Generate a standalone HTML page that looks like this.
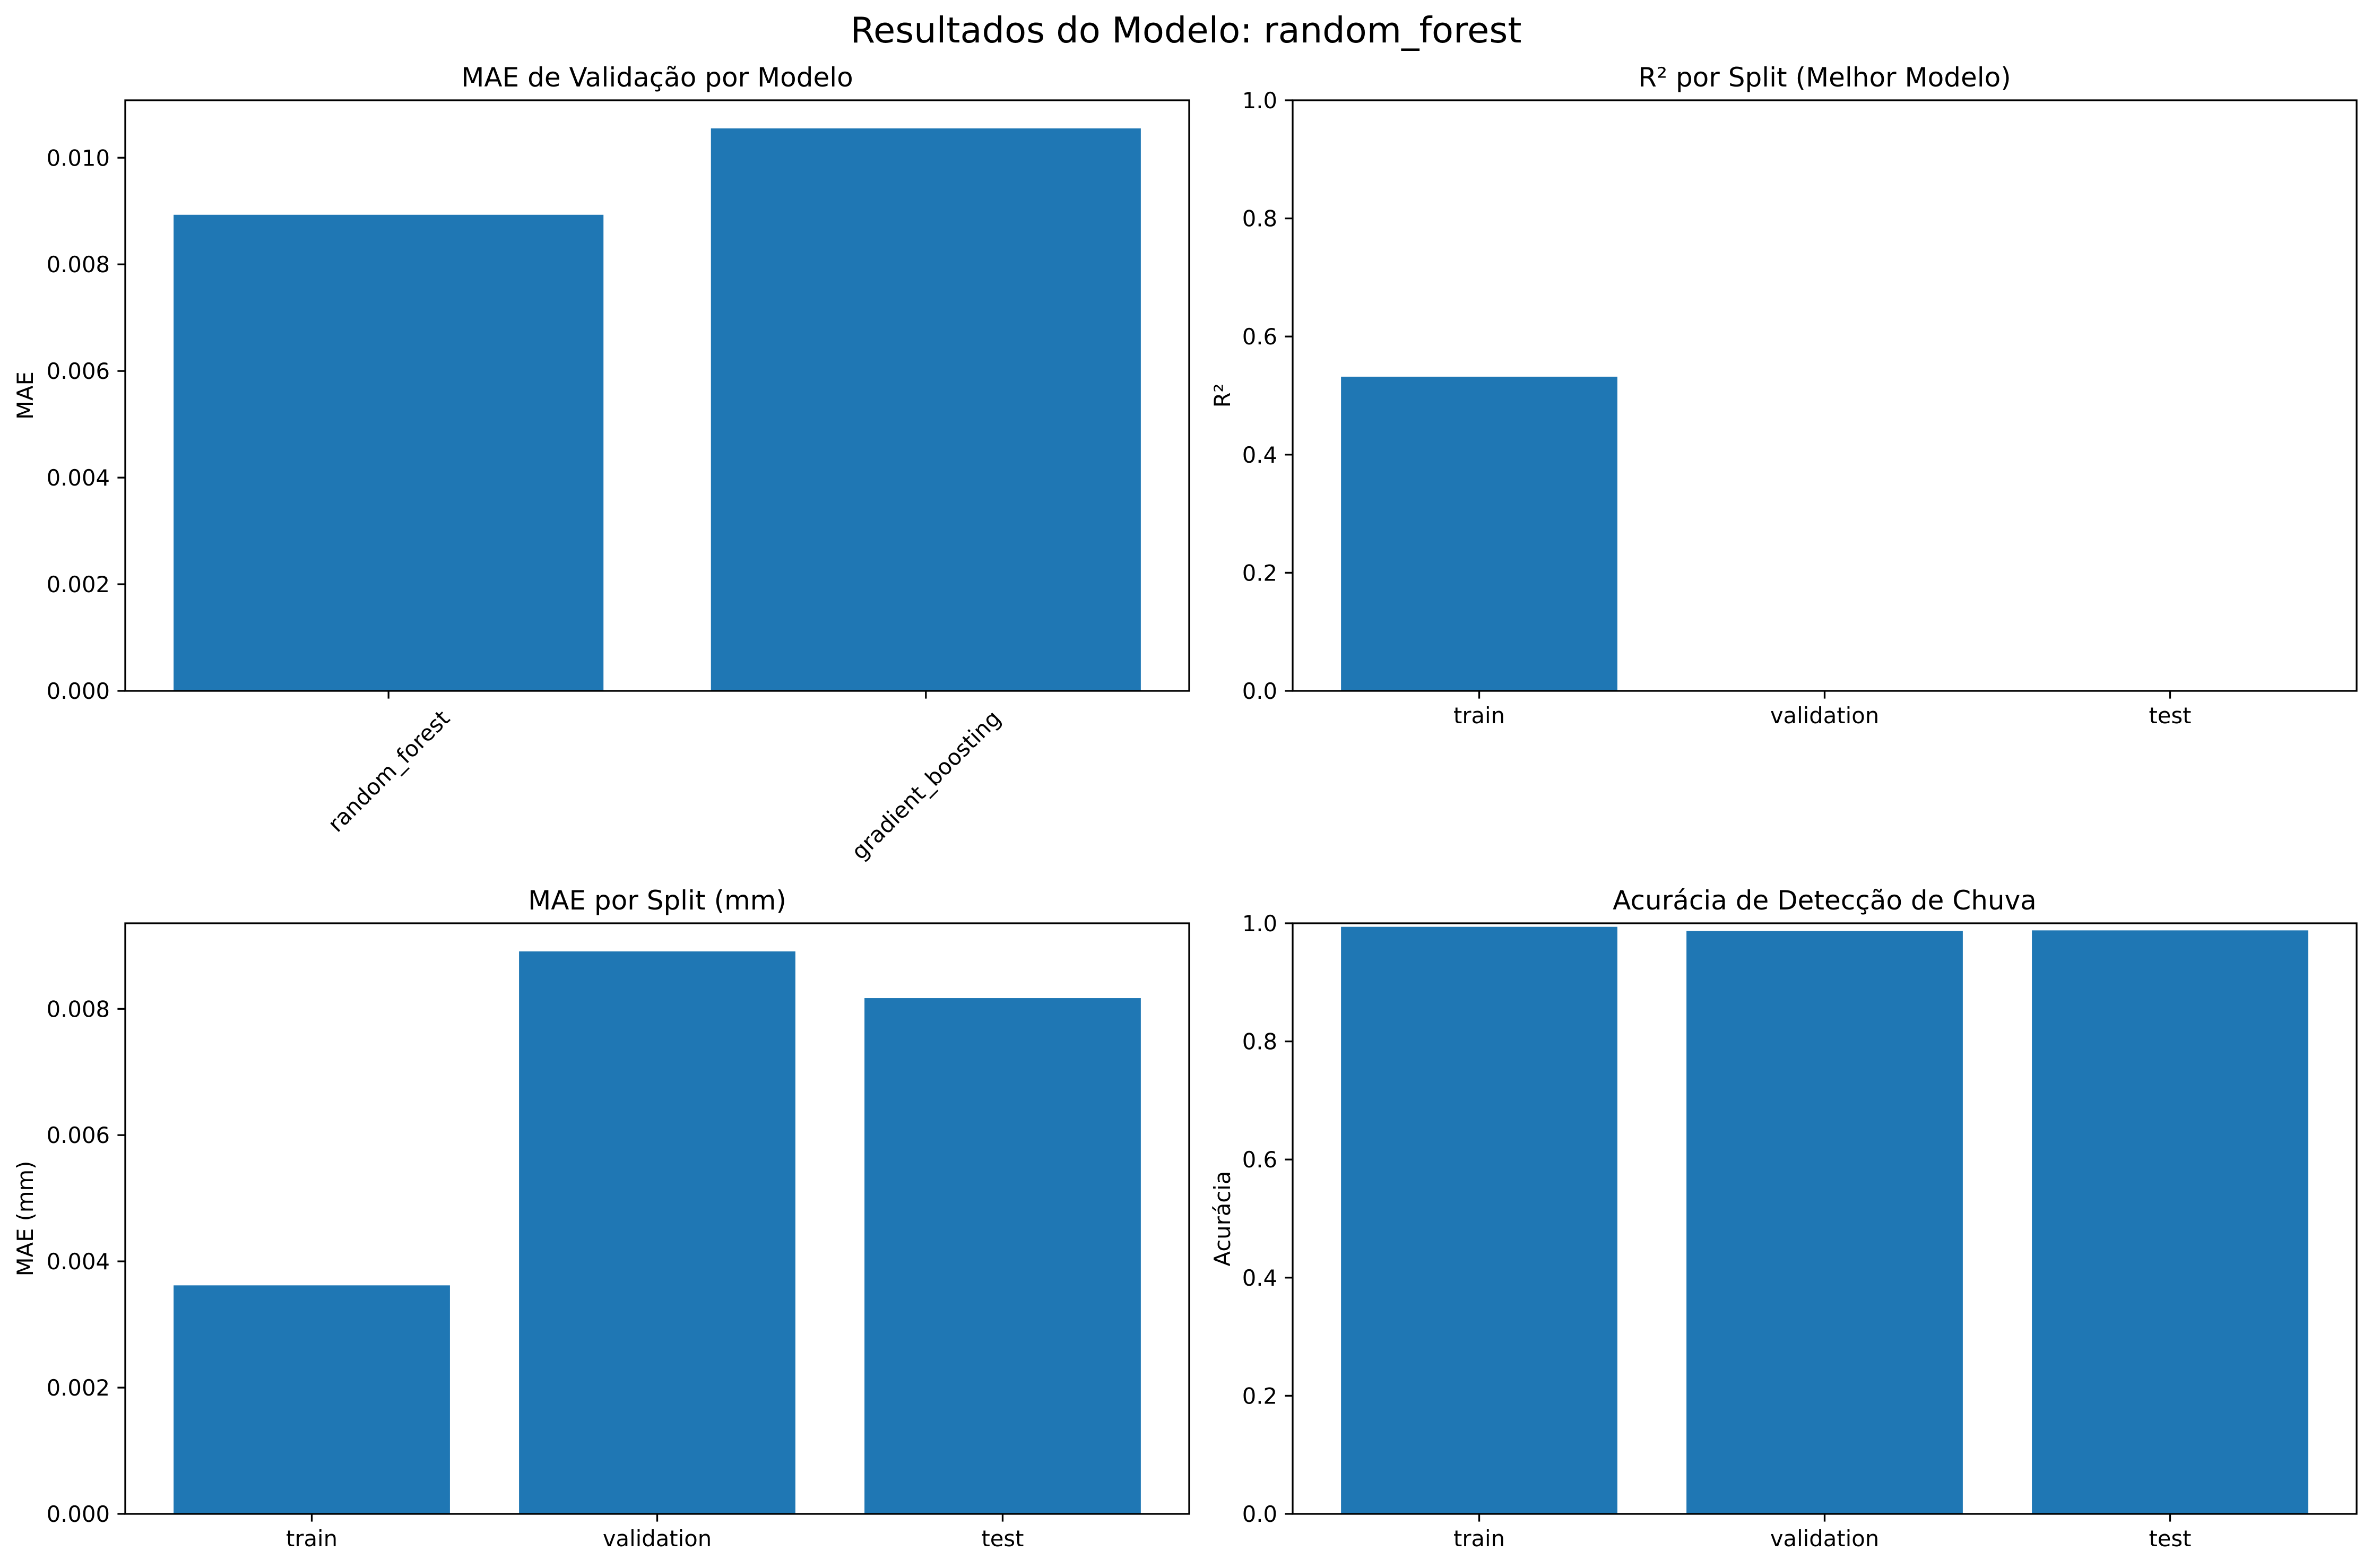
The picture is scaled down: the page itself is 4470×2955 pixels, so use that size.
<!DOCTYPE html>
<html><head><meta charset="utf-8"><style>
html,body{margin:0;padding:0;background:#fff}
svg{display:block}
text{font-family:"DejaVu Sans","Liberation Sans",sans-serif;fill:#000}
</style></head><body>
<svg id="fig" width="4470" height="2955" viewBox="0 0 4470 2955" xmlns="http://www.w3.org/2000/svg">
<rect width="4470" height="2955" fill="#fff"/>
<text x="2235" y="80" font-size="67" text-anchor="middle">Resultados do Modelo: random_forest</text>
</svg>
<script>
const modelCats = ["random_forest", "gradient_boosting"];
const modelMae = [0.00893, 0.01055];
const splitCats = ["train", "validation", "test"];
const r2Values = [0.532, 0, 0];
const maeSplitValues = [0.00362, 0.00891, 0.00817];
const accValues = [0.994, 0.987, 0.988];
const maeTicks = ["0.000","0.002","0.004","0.006","0.008","0.010"];
const unitTicks = ["0.0","0.2","0.4","0.6","0.8","1.0"];
const maeSplitTicks = ["0.000","0.002","0.004","0.006","0.008"];

const NS = "http://www.w3.org/2000/svg";
const svg = document.getElementById("fig");
function mk(tag, attrs, parent) {
  const e = document.createElementNS(NS, tag);
  for (const k in attrs) e.setAttribute(k, attrs[k]);
  (parent || svg).appendChild(e);
  return e;
}

function drawPanel(cfg) {
  const g = mk("g", {});
  
  
  const L = cfg.x0, R = cfg.x1, T = cfg.y0, B = cfg.y1;
  const n = cfg.cats.length;
  const xmin = -0.4 - 0.05 * (n - 1 + 0.8), xmax = n - 1 + 0.4 + 0.05 * (n - 1 + 0.8);
  const xs = v => L + (v - xmin) / (xmax - xmin) * (R - L);
  const ymax = cfg.ymax != null ? cfg.ymax : Math.max(...cfg.vals) * 1.05;
  const ys = v => B - v / ymax * (B - T);
  cfg.vals.forEach((v, i) => {
    const r = mk("rect", {x: xs(i - 0.4), y: ys(Math.max(v, 0)), width: xs(i + 0.4) - xs(i - 0.4), height: Math.max(0, B - ys(Math.max(v, 0))), fill: "#1f77b4"}, g);
    
    
  });
  const f = mk("rect", {x: L, y: T, width: R - L, height: B - T, fill: "none", stroke: "#000", "stroke-width": 3.3}, g);
  
  
  cfg.yticks.forEach(t => {
    const v = parseFloat(t);
    const y = ys(v);
    mk("line", {x1: L - 14.6, x2: L, y1: y, y2: y, stroke: "#000", "stroke-width": 3.3}, g);
    const tx = mk("text", {x: L - 29, y: y + 15, "font-size": 41.7, "text-anchor": "end"}, g);
    tx.textContent = t;
    
    
  });
  cfg.cats.forEach((c, i) => {
    const x = xs(i);
    mk("line", {x1: x, x2: x, y1: B, y2: B + 14.6, stroke: "#000", "stroke-width": 3.3}, g);
    const tx = mk("text", {"font-size": 41.7, "text-anchor": "middle"}, g);
    tx.textContent = c;
    
    
    if (cfg.rotate) {
      const len = tx.getComputedTextLength ? tx.getComputedTextLength() : c.length * 23;
      const h = (len + 42) * 0.7071;
      const cy = B + 29 + h / 2;
      tx.setAttribute("x", x); tx.setAttribute("y", cy + 15);
      tx.setAttribute("transform", `rotate(-45 ${x} ${cy})`);
    } else {
      tx.setAttribute("x", x); tx.setAttribute("y", B + 61);
    }
  });
  const ti = mk("text", {x: (L + R) / 2, y: T - 26, "font-size": 50, "text-anchor": "middle"}, g);
  ti.textContent = cfg.title;
  
  
  const yl = mk("text", {x: cfg.ylx, y: (T + B) / 2, "font-size": 41.7, "text-anchor": "middle", transform: `rotate(-90 ${cfg.ylx} ${(T + B) / 2})`}, g);
  yl.textContent = cfg.ylabel;
  
  
}

drawPanel({name: "panel-mae-validation", x0: 236, x1: 2241, y0: 189, y1: 1302, cats: modelCats, vals: modelMae, yticks: maeTicks, rotate: true, title: "MAE de Validação por Modelo", ylabel: "MAE", ylx: 62});
drawPanel({name: "panel-r2-split", x0: 2436, x1: 4441, y0: 189, y1: 1302, cats: splitCats, vals: r2Values, ymax: 1, yticks: unitTicks, title: "R² por Split (Melhor Modelo)", ylabel: "R²", ylx: 2318});
drawPanel({name: "panel-mae-split", x0: 236, x1: 2241, y0: 1740, y1: 2853, cats: splitCats, vals: maeSplitValues, yticks: maeSplitTicks, title: "MAE por Split (mm)", ylabel: "MAE (mm)", ylx: 62});
drawPanel({name: "panel-accuracy", x0: 2436, x1: 4441, y0: 1740, y1: 2853, cats: splitCats, vals: accValues, ymax: 1, yticks: unitTicks, title: "Acurácia de Detecção de Chuva", ylabel: "Acurácia", ylx: 2318});
</script>
</body></html>
